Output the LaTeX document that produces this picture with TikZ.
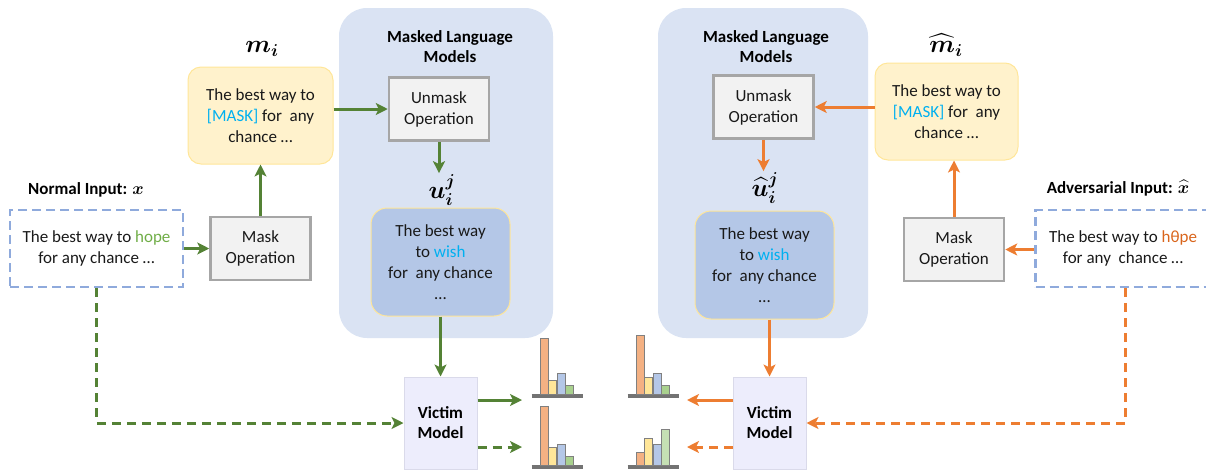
\documentclass[tikz,border=0pt]{standalone}
\usepackage{amsmath}
\usepackage{bm}
\usepackage{fontspec}
\setmainfont{Carlito}
\usetikzlibrary{arrows.meta,positioning,shapes}
\definecolor{mlmblue}{HTML}{DAE3F3}
\definecolor{opfill}{HTML}{F2F2F2}
\definecolor{opline}{HTML}{A6A6A6}
\definecolor{sentfill}{HTML}{FFF2CC}
\definecolor{sentline}{HTML}{FFE699}
\definecolor{predfill}{HTML}{B4C7E7}
\definecolor{inblue}{HTML}{8FAADC}
\definecolor{victimfill}{HTML}{EDEDFC}
\definecolor{victimline}{HTML}{DADAEA}
\definecolor{normgreen}{HTML}{548235}
\definecolor{hopegreen}{HTML}{70AD47}
\definecolor{advorange}{HTML}{ED7D31}
\definecolor{hopeorange}{HTML}{D9651C}
\definecolor{maskcyan}{HTML}{00B0F0}
\definecolor{barOrange}{HTML}{F4B183}
\definecolor{barYellow}{HTML}{FFE699}
\definecolor{barBlue}{HTML}{B4C7E7}
\definecolor{barGreen}{HTML}{A9D18E}
\definecolor{barLight}{HTML}{C5E0B4}
\tikzset{
diagram/.style={x=1pt,y=-1pt,>={Stealth[length=12pt,width=12pt,inset=3pt]}},
plain/.style={font=\fontsize{17}{21}\selectfont,text=black!90,align=center},
heading/.style={font=\fontsize{17}{20}\selectfont\bfseries,align=center},
mathlabel/.style={font=\fontsize{24}{26}\selectfont,inner sep=1pt},
panel/.style={rounded corners=28pt,fill=mlmblue},
opbox/.style={plain,draw=opline,line width=2.5pt,fill=opfill,
minimum width=100pt,minimum height=63pt,inner sep=1pt},
sentbox/.style={plain,rounded corners=13pt,fill=sentfill,draw=sentline,line width=1pt},
predbox/.style={plain,rounded corners=16pt,fill=predfill,draw=sentline,line width=1pt,
minimum width=139pt,minimum height=108pt},
inbox/.style={plain,draw=inblue,line width=2.5pt,dash pattern=on 9pt off 5pt,
minimum width=173pt,minimum height=77pt},
victim/.style={heading,fill=victimfill,draw=victimline,line width=1pt,
minimum width=73pt,minimum height=92pt},
goflow/.style={->,draw=normgreen,line width=3pt},
advflow/.style={->,draw=advorange,line width=3pt},
dashflow/.style={dash pattern=on 9pt off 6pt},
bar/.style={draw=gray,line width=1pt},
barbase/.style={draw=gray!90!black,line width=4pt},
}
\begin{document}
\begin{tikzpicture}[diagram]
\useasboundingbox (0,0) rectangle (1206,472);

% masked language model panels
\node[panel,minimum width=214pt,minimum height=330pt] (mlmL) at (446,173) {};
\node[panel,minimum width=210pt,minimum height=330pt] (mlmR) at (763,173) {};
\node[heading] (mlmLtitle) at (450,47) {Masked Language\\Models};
\node[heading] (mlmRtitle) at (766,47) {Masked Language\\Models};

% normal side
\node[heading] (normalLabel) at (86,190) {Normal Input: $\bm{x}$};
\node[inbox] (normal) at (96.5,248.5) {The best way to \textcolor{hopegreen}{hope}\\for any chance …};
\node[opbox] (maskL) at (260.5,248.5) {Mask\\Operation};
\node[mathlabel] (mLabel) at (262,49) {$\bm{m_i}$};
\node[sentbox,minimum width=145pt,minimum height=97pt] (mL) at (260.5,115.5)
  {The best way to\\\textcolor{maskcyan}{[MASK]} for~ any\\chance …};
\node[opbox] (unmaskL) at (439,109) {Unmask\\Operation};
\node[mathlabel] (uLabel) at (442,190) {$\bm{u_i^j}$};
\node[predbox] (uL) at (440.5,262) {The best way\\to \textcolor{maskcyan}{wish}\\for~ any chance\\…};
\node[victim] (victimL) at (440.5,423) {Victim\\Model};

% adversarial side
\node[heading] (advLabel) at (1118,188) {Adversarial Input: $\bm{\widehat{x}}$};
\node[inbox,minimum width=175pt] (adv) at (1123,248.5) {The best way to \textcolor{hopeorange}{hθpe}\\for any~ chance …};
\node[opbox] (maskR) at (954,249.5) {Mask\\Operation};
\node[mathlabel] (mhatLabel) at (946,45) {$\bm{\widehat{m}_i}$};
\node[sentbox,minimum width=143pt,minimum height=97pt] (mR) at (946.5,111.5)
  {The best way to\\\textcolor{maskcyan}{[MASK]} for~ any\\chance …};
\node[opbox] (unmaskR) at (763.5,107) {Unmask\\Operation};
\node[mathlabel] (uhatLabel) at (765,188) {$\bm{\widehat{u}_i^j}$};
\node[predbox] (uR) at (764.5,265) {The best way\\to \textcolor{maskcyan}{wish}\\for~ any chance\\…};
\node[victim] (victimR) at (769.5,423) {Victim\\Model};

% output ends
\coordinate (outLtop) at (522,400);
\coordinate (outLbot) at (522,447);
\coordinate (outRtop) at (687,400);
\coordinate (outRbot) at (687,447);

% output distributions
\foreach \bx/\by/\ha/\hb/\hc/\hd/\gc in {540/394/56/14/21/9/barGreen,540/465/59/18/21/9/barGreen,
  636/394/59/17/21/9/barGreen,636/465/13/27/21/36/barLight}{
  \draw[barbase] (\bx-8.5,\by+2) -- ++(51,0);
  \draw[bar,fill=barOrange] (\bx,\by) rectangle ++(8,-\ha);
  \draw[bar,fill=barYellow] (\bx+8.5,\by) rectangle ++(8,-\hb);
  \draw[bar,fill=barBlue] (\bx+17,\by) rectangle ++(8,-\hc);
  \draw[bar,fill=\gc] (\bx+25.5,\by) rectangle ++(8,-\hd);
}

\draw[goflow] (normal) -- (maskL);
\draw[goflow] (maskL) -- (mL);
\draw[goflow] (mL.east |- unmaskL) -- (unmaskL);
\draw[goflow] (unmaskL.south) -- (unmaskL.south |- uLabel.north);
\draw[goflow] (uL) -- (victimL);
\draw[goflow] (victimL.east |- outLtop) -- (outLtop);
\draw[goflow,dashflow] (victimL.east |- outLbot) -- (outLbot);
\draw[goflow,dashflow] (normal.south) |- (victimL.west);

\draw[advflow] (adv.west |- maskR) -- (maskR);
\draw[advflow] (maskR.north) -- (maskR.north |- mR.south);
\draw[advflow] (mR.west |- unmaskR) -- (unmaskR);
\draw[advflow] (unmaskR.south) -- (unmaskR.south |- uhatLabel.north);
\draw[advflow] (uR.south -| victimR.north) -- (victimR);
\draw[advflow] (victimR.west |- outRtop) -- (outRtop);
\draw[advflow,dashflow] (victimR.west |- outRbot) -- (outRbot);
\draw[advflow,dashflow] ([xshift=2pt]adv.south) |- (victimR.east);

\end{tikzpicture}
\end{document}
